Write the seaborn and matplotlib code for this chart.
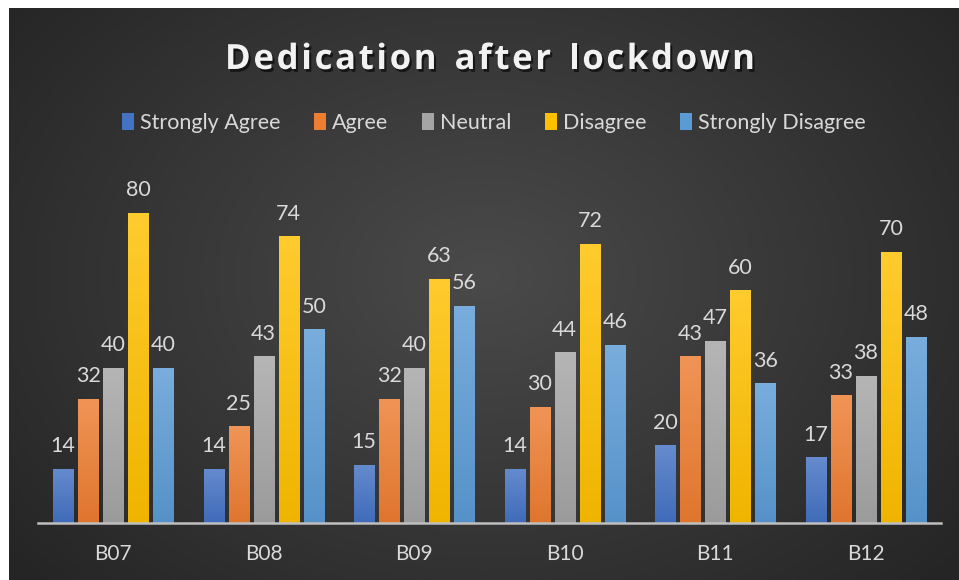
import numpy as np
import pandas as pd
import matplotlib
matplotlib.use("Agg")
import matplotlib.pyplot as plt
import matplotlib.patheffects as pe
from matplotlib.colors import to_rgb
import seaborn as sns

groups = ["B07", "B08", "B09", "B10", "B11", "B12"]
responses = ["Strongly Agree", "Agree", "Neutral", "Disagree", "Strongly Disagree"]
strongly_agree = [14, 14, 15, 14, 20, 17]
agree = [32, 25, 32, 30, 43, 33]
neutral = [40, 43, 40, 44, 47, 38]
disagree = [80, 74, 63, 72, 60, 70]
strongly_disagree = [40, 50, 56, 46, 36, 48]
colors = ["#4472C4", "#ED7D31", "#A5A5A5", "#FFC000", "#5B9BD5"]
title = "Dedication after lockdown"

series = [strongly_agree, agree, neutral, disagree, strongly_disagree]
rows = []
for resp, vals in zip(responses, series):
    for g, v in zip(groups, vals):
        rows.append({"Group": g, "Response": resp, "Value": v})
df = pd.DataFrame(rows)

sns.set_theme(style="white")
plt.rcParams["font.family"] = ["Lato", "DejaVu Sans"]

W, H = 959, 580
fig = plt.figure(figsize=(W / 100, H / 100), dpi=100)
fig.patch.set_facecolor("white")

# background with radial gradient
bg = fig.add_axes([9 / W, 0, 1 - 9 / W, (H - 8) / H], zorder=-10)
yy, xx = np.mgrid[0:300, 0:500]
cx, cy = 250, 140
r = np.sqrt(((xx - cx) / 260.0) ** 2 + ((yy - cy) / 190.0) ** 2)
r = np.clip(r, 0, 1.25) / 1.25
inner = np.array(to_rgb("#4a4a4a"))
outer = np.array(to_rgb("#252525"))
img = inner[None, None, :] * (1 - r[..., None]) + outer[None, None, :] * r[..., None]
bg.imshow(img, aspect="auto", extent=[0, 1, 0, 1])
bg.set_axis_off()

ax = fig.add_axes([38 / W, 57 / H, (941 - 38) / W, (523 - 174) / H])
ax.patch.set_alpha(0)
sns.barplot(data=df, x="Group", y="Value", hue="Response", hue_order=responses,
            palette=colors, width=0.833, gap=0.2, ax=ax, legend=True,
            saturation=1, edgecolor="none")
ax.set_ylim(0, 90)
ax.set_xlim(-0.5, len(groups) - 0.5)


def blend(c, t, amt):
    c = np.array(to_rgb(c))
    t = np.array(to_rgb(t))
    return c * (1 - amt) + t * amt


# gradient fill on bars
for cont, col in zip(ax.containers, colors):
    top = blend(col, "white", 0.18)
    bot = blend(col, "black", 0.06)
    grad = np.linspace(0, 1, 64)[:, None, None]
    gimg = top[None, None, :] * (1 - grad) + bot[None, None, :] * grad
    for p in cont.patches:
        x0, y0 = p.get_x(), p.get_y()
        w, h = p.get_width(), p.get_height()
        im = ax.imshow(gimg, extent=[x0, x0 + w, y0, y0 + h], aspect="auto",
                       zorder=p.get_zorder() + 0.1, interpolation="bilinear")
        im.set_clip_path(p)
    ax.bar_label(cont, padding=9, color="#d9d9d9", fontsize=15.5)
ax.set_xlim(-0.5, len(groups) - 0.5)
ax.set_ylim(0, 90)

for s in ["left", "right", "top"]:
    ax.spines[s].set_visible(False)
ax.spines["bottom"].set_color("#bfbfbf")
ax.spines["bottom"].set_linewidth(1.8)
ax.set_yticks([])
ax.set_xlabel("")
ax.set_ylabel("")
ax.tick_params(axis="x", colors="#d9d9d9", labelsize=15, length=0, pad=15)

handles, labels = ax.get_legend_handles_labels()
ax.get_legend().remove()
leg = fig.legend(handles, labels, loc="center", bbox_to_anchor=(494 / W, 1 - 123 / H),
                 ncol=5, frameon=False, fontsize=15.5, handlelength=0.55,
                 handleheight=0.85, handletextpad=0.3, columnspacing=1.55)
for t in leg.get_texts():
    t.set_color("#d9d9d9")

# title with letter spacing
renderer = fig.canvas.get_renderer()
tkw = dict(fontsize=25, fontweight="bold", color="#f2f2f2",
           family=["Open Sans", "DejaVu Sans"], va="baseline", ha="left")
shadow = [pe.withSimplePatchShadow(offset=(1.5, -2), shadow_rgbFace="black", alpha=0.6)]
widths = []
for ch in title:
    if ch == " ":
        t = fig.text(0, 0, "n", **tkw)
        w = t.get_window_extent(renderer).width * 0.55
    else:
        t = fig.text(0, 0, ch, **tkw)
        w = t.get_window_extent(renderer).width
    t.remove()
    widths.append(w)
target = 530.0
spacing = (target - sum(widths)) / (len(title) - 1)
x = 490 - target / 2
baseline_y = H - 69
for ch, w in zip(title, widths):
    if ch != " ":
        fig.text(x / W, baseline_y / H, ch, path_effects=shadow, **tkw)
    x += w + spacing

fig.savefig("out.png", dpi=100, facecolor=fig.get_facecolor())
